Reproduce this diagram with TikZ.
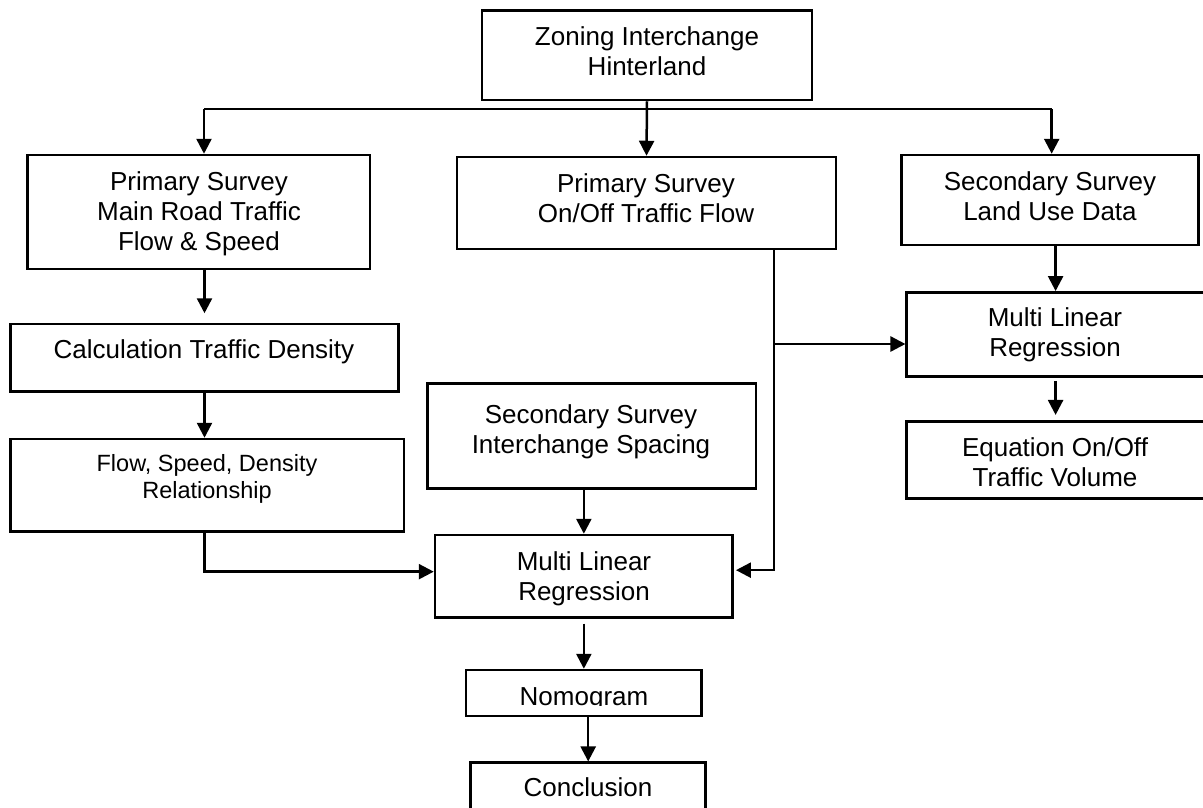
\documentclass[tikz,border=0pt]{standalone}
\usepackage{fontspec}
\setmainfont{Liberation Sans}
\usetikzlibrary{arrows.meta}
\begin{document}
\begin{tikzpicture}[x=1pt,y=-1pt,
  box/.style={draw, line width=2.5pt, inner sep=0pt, minimum width=#1},
  txt/.style={anchor=north, inner sep=0pt, align=center, font=\fontsize{26}{30}\selectfont},
  stxt/.style={anchor=north, inner sep=0pt, align=center, font=\fontsize{23.5}{26.7}\selectfont},
  conn/.style={line width=2.5pt},
  arr/.style={line width=2.5pt, -{Triangle[length=15pt,width=15pt]}}]
\useasboundingbox (0,0) rectangle (1203,807);
% boxes
\node[box=330pt, minimum height=89.3pt] (zon) at (647,55.35) {};
\node[box=379pt, minimum height=92pt] (onoff) at (646.5,203) {};
\node[box=342.3pt, minimum height=114pt] (mr) at (198.85,212) {};
\node[box=387.6pt, minimum height=67.7pt] (calc) at (204.5,357.85) {};
\node[box=393.3pt, minimum height=92.7pt] (flow) at (207.35,485.35) {};
\node[box=328.7pt, minimum height=105pt] (sis) at (591.65,435.8) {};
\node[box=297.7pt, minimum height=82.3pt] (mlr) at (583.85,576.15) {};
\node[box=235.7pt, minimum height=46pt] (nomo) at (583.85,693) {};
\node[box=235pt, minimum height=50pt] (concl) at (588.2,787.7) {};
\node[box=296.6pt, minimum height=90pt] (land) at (1050,200) {};
\node[box=297.8pt, minimum height=84.4pt] (mlr2) at (1055.6,334.5) {};
\node[box=297.8pt, minimum height=76.6pt] (eq) at (1055.6,460) {};
% texts
\node[txt] (zonT) at (647,24) {\strut Zoning Interchange\\Hinterland};
\node[txt] (onoffT) at (646,171.7) {\strut Primary Survey\\On/Off Traffic Flow};
\node[txt] (mrT) at (199,169) {\strut Primary Survey\\Main Road Traffic\\Flow \& Speed};
\node[txt] (calcT) at (204,337.3) {\strut Calculation Traffic Density};
\node[stxt] (flowT) at (207,453) {\strut Flow, Speed, Density\\Relationship};
\node[txt] (sisT) at (591,402.3) {\strut Secondary Survey\\Interchange Spacing};
\node[txt] (mlrT) at (584,549) {\strut Multi Linear\\Regression};
\begin{scope}
\clip (468,672) rectangle (700,705.5);
\node[txt] (nomoT) at (584,684) {\strut Nomogram};
\end{scope}
\node[txt] (conclT) at (588,775.7) {\strut Conclusion};
\node[txt] (landT) at (1050,169) {\strut Secondary Survey\\Land Use Data};
\node[txt] (mlr2T) at (1055,305.7) {\strut Multi Linear\\Regression};
\node[txt] (eqT) at (1055,435) {\strut Equation On/Off\\Traffic Volume};
% connectors
\coordinate (jl) at (204,109);
\coordinate (jr) at (1051.7,109);
\draw[conn] (jl) -- (jr);
\draw[arr] (zon.south) -- (onoff.north);
\draw[arr] (jl) -- (jl |- mr.north);
\draw[arr] (jr) -- (jr |- land.north);
\draw[arr, shorten >=9.5pt] (calc.north |- mr.south) -- (calc.north);
\draw[arr] (calc.south) -- (calc.south |- flow.north);
\draw[arr] (calc.south |- flow.south) |- ([yshift=4.5pt]mlr.west);
\coordinate (ob) at ([xshift=127.5pt]onoff.south);
\draw[arr, shorten >=2pt] (ob) |- ([yshift=6pt]mlr.east);
\coordinate (tg) at ([yshift=-9.5pt]mlr2.west);
\draw[arr] (ob |- tg) -- (tg);
\draw[arr] (mlr.north |- sis.south) -- (mlr.north);
\draw[arr, shorten <=5pt] (mlr.south) -- (mlr.south |- nomo.north);
\draw[arr] (concl.north |- nomo.south) -- (concl.north);
\draw[arr] (mlr2.north |- land.south) -- (mlr2.north);
\draw[arr, shorten <=3pt, shorten >=5.5pt] (mlr2.south) -- (eq.north);
\end{tikzpicture}
\end{document}
